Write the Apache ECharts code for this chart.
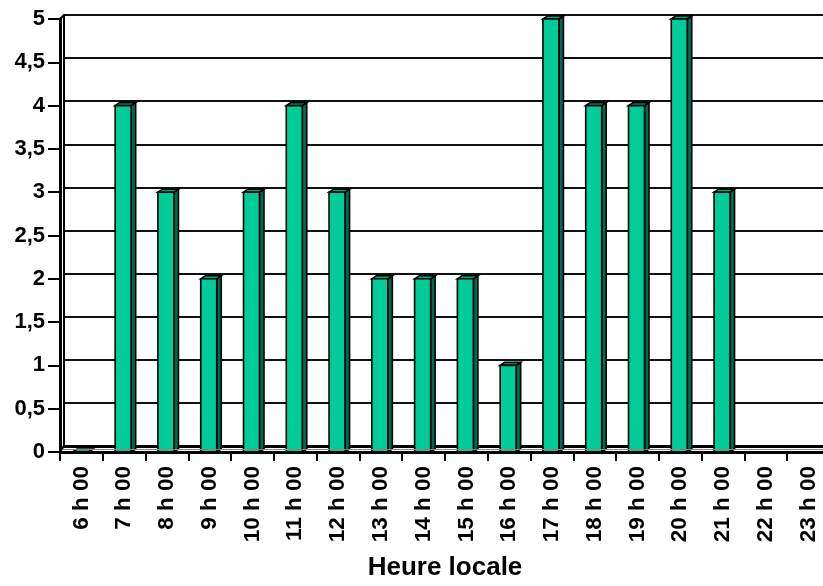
<!DOCTYPE html>
<html><head><meta charset="utf-8">
<script src="https://cdn.jsdelivr.net/npm/echarts@6/dist/echarts.min.js"></script>
<style>html,body{margin:0;padding:0;background:#fff}#c{width:823px;height:586px}</style>
</head><body><div id="c"></div>
<script>
const categories = ['6 h 00','7 h 00','8 h 00','9 h 00','10 h 00','11 h 00','12 h 00','13 h 00','14 h 00','15 h 00','16 h 00','17 h 00','18 h 00','19 h 00','20 h 00','21 h 00','22 h 00','23 h 00'];
const values = [0,4,3,2,3,4,3,2,2,2,1,5,4,4,5,3,null,null];
const yMin = 0, yMax = 5, yStep = 0.5;
const axisTitle = 'Heure locale';

const FONT = '"Liberation Sans", Arial, sans-serif';
const chart = echarts.init(document.getElementById('c'), null, {renderer: 'canvas'});

const option = {
  backgroundColor: '#ffffff',
  animation: false,
  grid: [
    {left: 60, top: 19, width: 770, height: 433, containLabel: false, outerBoundsMode: 'none'},
    {left: 64, top: 15, width: 770, height: 431, containLabel: false, outerBoundsMode: 'none'}
  ],
  xAxis: [
    {
      type: 'category', gridIndex: 0, data: categories, z: 10,
      axisLine: {lineStyle: {color: '#000', width: 3}},
      axisTick: {show: true, length: 9, lineStyle: {color: '#000', width: 2}},
      axisLabel: {rotate: 90, margin: 14, interval: 0, color: '#000', fontFamily: FONT, fontWeight: 'bold', fontSize: 22.5},
      name: axisTitle, nameLocation: 'middle', nameGap: 103,
      nameTextStyle: {color: '#000', fontFamily: FONT, fontWeight: 'bold', fontSize: 26},
      splitLine: {show: false}
    },
    {
      type: 'category', gridIndex: 1, data: categories, position: 'top',
      axisLine: {show: true, lineStyle: {color: '#000', width: 3}},
      axisTick: {show: false}, axisLabel: {show: false}, splitLine: {show: false}
    }
  ],
  yAxis: [
    {
      type: 'value', gridIndex: 0, min: yMin, max: yMax, interval: yStep, z: 10,
      axisLine: {show: true, lineStyle: {color: '#000', width: 3}},
      axisTick: {show: true, length: 12, lineStyle: {color: '#000', width: 2}},
      axisLabel: {margin: 15, color: '#000', fontFamily: FONT, fontWeight: 'bold', fontSize: 22,
        formatter: v => String(v).replace('.', ',')},
      splitLine: {show: false}
    },
    {
      type: 'value', gridIndex: 1, min: yMin, max: yMax, interval: yStep,
      axisLine: {show: true, lineStyle: {color: '#000', width: 2}},
      axisTick: {show: false}, axisLabel: {show: false},
      splitLine: {show: true, lineStyle: {color: '#111', width: 2}}
    }
  ],
  series: [{
    type: 'custom', xAxisIndex: 0, yAxisIndex: 0, z: 3,
    data: values.map((v, i) => [i, v]),
    encode: {x: 0, y: 1},
    renderItem: function (params, api) {
      const v = api.value(1);
      if (v === null || v === undefined || isNaN(v)) return null;
      const top = api.coord([api.value(0), v]);
      const base = api.coord([api.value(0), 0]);
      const w = 16, dx = 4.5, dy = -3;
      const x0 = top[0] - 9;
      const ty = top[1], by = base[1];
      const stroke = {stroke: '#000', lineWidth: 1.6};
      return {
        type: 'group',
        children: [
          {type: 'polygon', shape: {points: [[x0 + w, ty], [x0 + w + dx, ty + dy], [x0 + w + dx, by + dy], [x0 + w, by]]},
            style: Object.assign({fill: '#006A50'}, stroke)},
          {type: 'polygon', shape: {points: [[x0, ty], [x0 + dx, ty + dy], [x0 + w + dx, ty + dy], [x0 + w, ty]]},
            style: Object.assign({fill: '#00A87E'}, stroke)},
          {type: 'rect', shape: {x: x0, y: ty, width: w, height: by - ty},
            style: Object.assign({fill: '#00CC99'}, stroke)}
        ]
      };
    }
  }]
};
chart.setOption(option);

const fTop = chart.convertToPixel({gridIndex: 0}, [0, yMax]);
const fBot = chart.convertToPixel({gridIndex: 0}, [0, yMin]);
const bTop = chart.convertToPixel({gridIndex: 1}, [0, yMax]);
const bBot = chart.convertToPixel({gridIndex: 1}, [0, yMin]);
const fx = 60, bx = 64;
chart.setOption({
  graphic: [
    {type: 'line', z: 20, shape: {x1: fx, y1: fTop[1], x2: bx, y2: bTop[1]}, style: {stroke: '#000', lineWidth: 2}},
    {type: 'line', z: 20, shape: {x1: fx, y1: fBot[1], x2: bx, y2: bBot[1]}, style: {stroke: '#000', lineWidth: 2}},
    {type: 'line', z: 20, shape: {x1: fx + 2, y1: (fBot[1] + bBot[1]) / 2 + 0.5, x2: 823, y2: (fBot[1] + bBot[1]) / 2 + 0.5}, style: {stroke: '#888', lineWidth: 1}}
  ]
});
</script></body></html>
